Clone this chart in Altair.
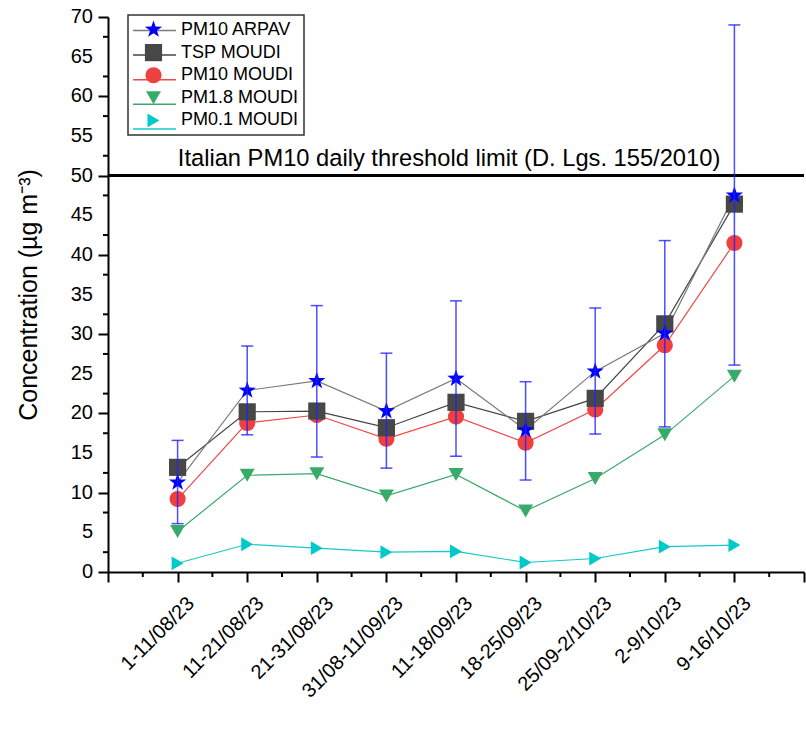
import json
import altair as alt
import pandas as pd

# ---------------- data ----------------
periods = ["1-11/08/23", "11-21/08/23", "21-31/08/23", "31/08-11/09/23", "11-18/09/23",
           "18-25/09/23", "25/09-2/10/23", "2-9/10/23", "9-16/10/23"]
series_names = ["PM10 ARPAV", "TSP MOUDI", "PM10 MOUDI", "PM1.8 MOUDI", "PM0.1 MOUDI"]

pm10_arpav = [11.3, 22.9, 24.1, 20.3, 24.4, 17.9, 25.3, 30.1, 47.5]
arpav_err_low = [6.1, 17.3, 14.5, 13.1, 14.6, 11.6, 17.4, 18.3, 26.1]
arpav_err_high = [16.6, 28.5, 33.6, 27.6, 34.2, 24.0, 33.3, 41.8, 69.0]
tsp_moudi = [13.2, 20.2, 20.3, 18.2, 21.4, 19.0, 21.9, 31.3, 46.4]
pm10_moudi = [9.2, 18.8, 19.8, 16.8, 19.6, 16.3, 20.5, 28.6, 41.5]
pm18_moudi = [5.1, 12.2, 12.4, 9.6, 12.3, 7.7, 11.8, 17.3, 24.7]
pm01_moudi = [1.1, 3.5, 3.0, 2.5, 2.6, 1.2, 1.7, 3.2, 3.4]

threshold_value = [50]
threshold_label = ["Italian PM10 daily threshold limit (D. Lgs. 155/2010)"]
threshold_label_x = [4.9]

x_major_ticks = list(range(0, 11))
x_minor_ticks = [0.5, 1.5, 2.5, 3.5, 4.5, 5.5, 6.5, 7.5, 8.5, 9.5]
y_major_ticks = list(range(0, 71, 5))
y_tick_labels = [str(v) for v in y_major_ticks]
y_minor_ticks = [2.5, 7.5, 12.5, 17.5, 22.5, 27.5, 32.5, 37.5, 42.5, 47.5, 52.5, 57.5, 62.5, 67.5]

y_title = "Concentration (\u00b5g m\u207b\u00b3)"

# ---------------- styles ----------------
FONT = "Liberation Sans"
STAR = ("M0,-1L0.2351,-0.3236L0.9511,-0.309L0.3804,0.1236L0.5878,0.809L0,0.4"
        "L-0.5878,0.809L-0.3804,0.1236L-0.9511,-0.309L-0.2351,-0.3236Z")
line_colors = ["#7a7a7a", "#444444", "#f04848", "#3aaa6a", "#14c8c8"]
marker_colors = ["#0000ff", "#474747", "#ef4040", "#38ab69", "#00c9c9"]
marker_shapes = [STAR, "square", "circle", "triangle-down", "triangle-right"]
marker_sizes = [330, 190, 210, 380, 360]

values = {
    "PM10 ARPAV": pm10_arpav,
    "TSP MOUDI": tsp_moudi,
    "PM10 MOUDI": pm10_moudi,
    "PM1.8 MOUDI": pm18_moudi,
    "PM0.1 MOUDI": pm01_moudi,
}
draw_order = ["PM0.1 MOUDI", "PM1.8 MOUDI", "PM10 MOUDI", "TSP MOUDI", "PM10 ARPAV"]
rows = []
for k, name in enumerate(draw_order):
    for i, v in enumerate(values[name]):
        rows.append({"series": name, "series_line": name, "idx": i + 1, "value": v, "order": k})
df = pd.DataFrame(rows)
err_df = pd.DataFrame({"idx": list(range(1, len(periods) + 1)),
                       "lo": arpav_err_low, "hi": arpav_err_high})
thr_df = pd.DataFrame({"value": threshold_value, "x": threshold_label_x, "label": threshold_label})
ylab_df = pd.DataFrame({"t": y_major_ticks, "lab": y_tick_labels})

xscale = alt.Scale(domain=[0, 10], nice=False, zero=False)
yscale = alt.Scale(domain=[0, 70], nice=False, zero=False)

x_label_expr = ("datum.value >= 1 && datum.value <= " + str(len(periods)) + " ? "
                + json.dumps(periods) + "[datum.value - 1] : ''")

x_axis = alt.Axis(
    values=x_major_ticks, labelExpr=x_label_expr, title=None,
    labelAngle=-45, labelAlign="right", labelBaseline="middle",
    labelFontSize=20, labelFont=FONT, labelColor="black",
    labelPadding=18, labelOffset=13,
    tickSize=10, tickWidth=2, tickColor="black", domainColor="black", domainWidth=2,
    grid=False, labelOverlap=False, labelFlush=False, labelBound=False,
)
y_axis = alt.Axis(
    values=y_major_ticks, labels=False,
    tickSize=10, tickWidth=2, tickColor="black", domainColor="black", domainWidth=2,
    grid=False,
    title=y_title, titleFont=FONT, titleFontSize=25, titleFontWeight="normal",
    titleColor="black", titlePadding=56,
)

common_legend = dict(
    title=None, orient="none", legendX=20, legendY=-2,
    labelFontSize=18, labelFont=FONT, padding=5, symbolOffset=11,
    labelOffset=18, rowPadding=4.6,
)
pts_legend = alt.Legend(labelColor="black", strokeColor="#333333",
                        symbolStrokeWidth=0, **common_legend)
line_legend = alt.Legend(labelColor="rgba(0,0,0,0)", symbolType="M-2.2,0H2.2",
                         symbolSize=380, symbolStrokeWidth=1.5, **common_legend)

base = alt.Chart(df)

# line layer first: it carries the axes
lines = base.mark_line(strokeWidth=1.2).encode(
    x=alt.X("idx:Q", scale=xscale, axis=x_axis),
    y=alt.Y("value:Q", scale=yscale, axis=y_axis),
    color=alt.Color("series_line:N", sort=series_names,
                    scale=alt.Scale(range=line_colors), legend=line_legend),
)

points = base.mark_point(filled=True, opacity=1, strokeWidth=0).encode(
    x=alt.X("idx:Q", scale=xscale),
    y=alt.Y("value:Q", scale=yscale),
    fill=alt.Fill("series:N", scale=alt.Scale(domain=series_names, range=marker_colors),
                  legend=pts_legend),
    shape=alt.Shape("series:N", scale=alt.Scale(domain=series_names, range=marker_shapes),
                    legend=pts_legend),
    size=alt.Size("series:N", scale=alt.Scale(domain=series_names, range=marker_sizes),
                  legend=pts_legend),
    order=alt.Order("order:Q"),
)

err_color = "#2020ff"
err_rule = alt.Chart(err_df).mark_rule(color=err_color, strokeWidth=1.5, opacity=0.8).encode(
    x=alt.X("idx:Q", scale=xscale),
    y=alt.Y("lo:Q", scale=yscale),
    y2="hi:Q",
)
cap_lo = alt.Chart(err_df).mark_tick(orient="horizontal", size=12, thickness=1.5,
                                     color=err_color, opacity=0.8).encode(
    x=alt.X("idx:Q", scale=xscale),
    y=alt.Y("lo:Q", scale=yscale),
)
cap_hi = alt.Chart(err_df).mark_tick(orient="horizontal", size=12, thickness=1.5,
                                     color=err_color, opacity=0.8).encode(
    x=alt.X("idx:Q", scale=xscale),
    y=alt.Y("hi:Q", scale=yscale),
)

thr_rule = alt.Chart(thr_df).mark_rule(color="black", strokeWidth=3).encode(
    y=alt.Y("value:Q", scale=yscale),
)
thr_text = alt.Chart(thr_df).mark_text(font=FONT, fontSize=23.7, color="black",
                                       baseline="alphabetic", align="center", dy=-9.5).encode(
    x=alt.X("x:Q", scale=xscale),
    y=alt.Y("value:Q", scale=yscale),
    text="label:N",
)

# minor ticks of the axes and y tick labels
x_minor = alt.Chart(pd.DataFrame({"t": x_minor_ticks})).mark_rule(color="black", strokeWidth=2).encode(
    x=alt.X("t:Q", scale=xscale),
    y=alt.value(555), y2=alt.value(560),
)
y_minor = alt.Chart(pd.DataFrame({"t": y_minor_ticks})).mark_rule(color="black", strokeWidth=2).encode(
    y=alt.Y("t:Q", scale=yscale),
    x=alt.value(-5), x2=alt.value(0),
)
y_labels = alt.Chart(ylab_df).mark_text(font=FONT, fontSize=20, color="black",
                                        align="right", baseline="middle").encode(
    y=alt.Y("t:Q", scale=yscale),
    x=alt.value(-15),
    text="lab:N",
)

chart = alt.layer(lines, thr_rule, thr_text, x_minor, y_minor, y_labels, points,
                  err_rule, cap_lo, cap_hi).properties(
    width=696, height=555,
    padding={"left": 108, "top": 17, "right": 2, "bottom": 158},
    autosize=alt.AutoSizeParams(type="none"),
    background="white",
).configure_view(stroke=None).configure_legend(strokeWidth=1.5)

chart.save("out.html", embed_options={"renderer": "svg", "actions": False})
